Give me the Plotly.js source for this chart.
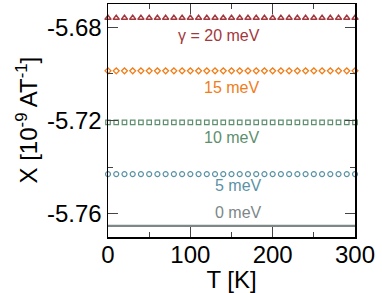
<!DOCTYPE html>
<html>
<head>
<meta charset="utf-8">
<script src="https://cdn.plot.ly/plotly-3.0.1.min.js"></script>
<style>html,body{margin:0;padding:0;background:#fff;}#chart{width:382px;height:293px;}</style>
</head>
<body>
<div id="chart"></div>
<script>
var T = [0,10,20,30,40,50,60,70,80,90,100,110,120,130,140,150,160,170,180,190,200,210,220,230,240,250,260,270,280,290,300];
var chi20 = [-5.6760,-5.6760,-5.6760,-5.6760,-5.6760,-5.6760,-5.6760,-5.6760,-5.6760,-5.6760,-5.6760,-5.6760,-5.6760,-5.6760,-5.6760,-5.6760,-5.6760,-5.6760,-5.6760,-5.6760,-5.6760,-5.6760,-5.6760,-5.6760,-5.6760,-5.6760,-5.6760,-5.6760,-5.6760,-5.6760,-5.6760];
var chi15 = [-5.6987,-5.6987,-5.6987,-5.6987,-5.6987,-5.6987,-5.6987,-5.6987,-5.6987,-5.6987,-5.6987,-5.6987,-5.6987,-5.6987,-5.6987,-5.6987,-5.6987,-5.6987,-5.6987,-5.6987,-5.6987,-5.6987,-5.6987,-5.6987,-5.6987,-5.6987,-5.6987,-5.6987,-5.6987,-5.6987,-5.6987];
var chi10 = [-5.7208,-5.7208,-5.7208,-5.7208,-5.7208,-5.7208,-5.7208,-5.7208,-5.7208,-5.7208,-5.7208,-5.7208,-5.7208,-5.7208,-5.7208,-5.7208,-5.7208,-5.7208,-5.7208,-5.7208,-5.7208,-5.7208,-5.7208,-5.7208,-5.7208,-5.7208,-5.7208,-5.7208,-5.7208,-5.7208,-5.7208];
var chi5 = [-5.7430,-5.7430,-5.7430,-5.7430,-5.7430,-5.7430,-5.7430,-5.7430,-5.7430,-5.7430,-5.7430,-5.7430,-5.7430,-5.7430,-5.7430,-5.7430,-5.7430,-5.7430,-5.7430,-5.7430,-5.7430,-5.7430,-5.7430,-5.7430,-5.7430,-5.7430,-5.7430,-5.7430,-5.7430,-5.7430,-5.7430];
var chi0 = [-5.7652,-5.7652,-5.7652,-5.7652,-5.7652,-5.7652,-5.7652,-5.7652,-5.7652,-5.7652,-5.7652,-5.7652,-5.7652,-5.7652,-5.7652,-5.7652,-5.7652,-5.7652,-5.7652,-5.7652,-5.7652,-5.7652,-5.7652,-5.7652,-5.7652,-5.7652,-5.7652,-5.7652,-5.7652,-5.7652,-5.7652];
var seriesLabels = ['γ = 20 meV','15 meV','10 meV','5 meV','0 meV'];
var xTicks = [0,100,200,300];
var yTicks = [-5.68,-5.72,-5.76];
var yTickText = ['-5.68','-5.72','-5.76'];

var colors = ['#a3383c','#f07d18','#5e8e6e','#5a92a6','#7d8787'];

var traces = [
  {x:T, y:chi0, mode:'lines', line:{color:colors[4], width:2.2}, cliponaxis:false},
  {x:T, y:chi5, mode:'markers', marker:{symbol:'circle-open', size:5, color:colors[3], line:{width:1.2}}, cliponaxis:false},
  {x:T, y:chi10, mode:'markers', marker:{symbol:'square-open', size:4.5, color:colors[2], line:{width:1.2}}, cliponaxis:false},
  {x:T, y:chi15, mode:'markers', marker:{symbol:'diamond-open', size:4.5, color:colors[1], line:{width:1.3}}, cliponaxis:false},
  {x:T, y:chi20, mode:'markers', marker:{symbol:'triangle-up-open', size:5.5, color:colors[0], line:{width:1.5}}, cliponaxis:false}
];

var annPos = [[134.8,-5.6834],[150.6,-5.7057],[150.6,-5.7275],[157.9,-5.7480],[157.9,-5.7596]];
var annotations = seriesLabels.map(function(t,i){
  return {x:annPos[i][0], y:annPos[i][1], xref:'x', yref:'y', text:t, showarrow:false,
          font:{family:'Liberation Sans, Arial, sans-serif', size:16, color:colors[i]}, xanchor:'center', yanchor:'middle'};
});
annotations.push({x:0, xref:'paper', xanchor:'center', xshift:-82, y:0.5, yref:'paper', yanchor:'middle',
  text:'X [10<sup>-9</sup> AT<sup>-1</sup>]', textangle:-90, showarrow:false,
  font:{family:'Liberation Sans, Arial, sans-serif', size:24, color:'#000'}});

var layout = {
  width:382, height:293,
  margin:{l:108, r:27, t:4, b:56},
  paper_bgcolor:'#fff', plot_bgcolor:'#fff',
  showlegend:false,
  font:{family:'Liberation Sans, Arial, sans-serif', color:'#000'},
  xaxis:{range:[0,300], tickvals:xTicks, ticks:'inside', ticklen:10, tickwidth:1.2, tickcolor:'#444',
    minor:{tickvals:[50,150,250], ticks:'inside', ticklen:5, tickwidth:1, tickcolor:'#444'},
    showline:true, linecolor:'#000', linewidth:1.5, mirror:'ticks', showgrid:false, zeroline:false,
    ticklabelstandoff:-4,
    tickfont:{size:24}, title:{text:'T [K]', font:{size:24}, standoff:0}},
  yaxis:{range:[-5.77,-5.67], tickvals:yTicks, ticktext:yTickText, ticks:'inside', ticklen:10, tickwidth:1.2, tickcolor:'#444',
    minor:{tickvals:[-5.70,-5.74], ticks:'inside', ticklen:5, tickwidth:1, tickcolor:'#444'},
    showline:true, linecolor:'#000', linewidth:1.5, mirror:'ticks', showgrid:false, zeroline:false,
    tickfont:{size:24}},
  annotations:annotations
};
Plotly.newPlot('chart', traces, layout, {displayModeBar:false, staticPlot:true});
</script>
</body>
</html>
